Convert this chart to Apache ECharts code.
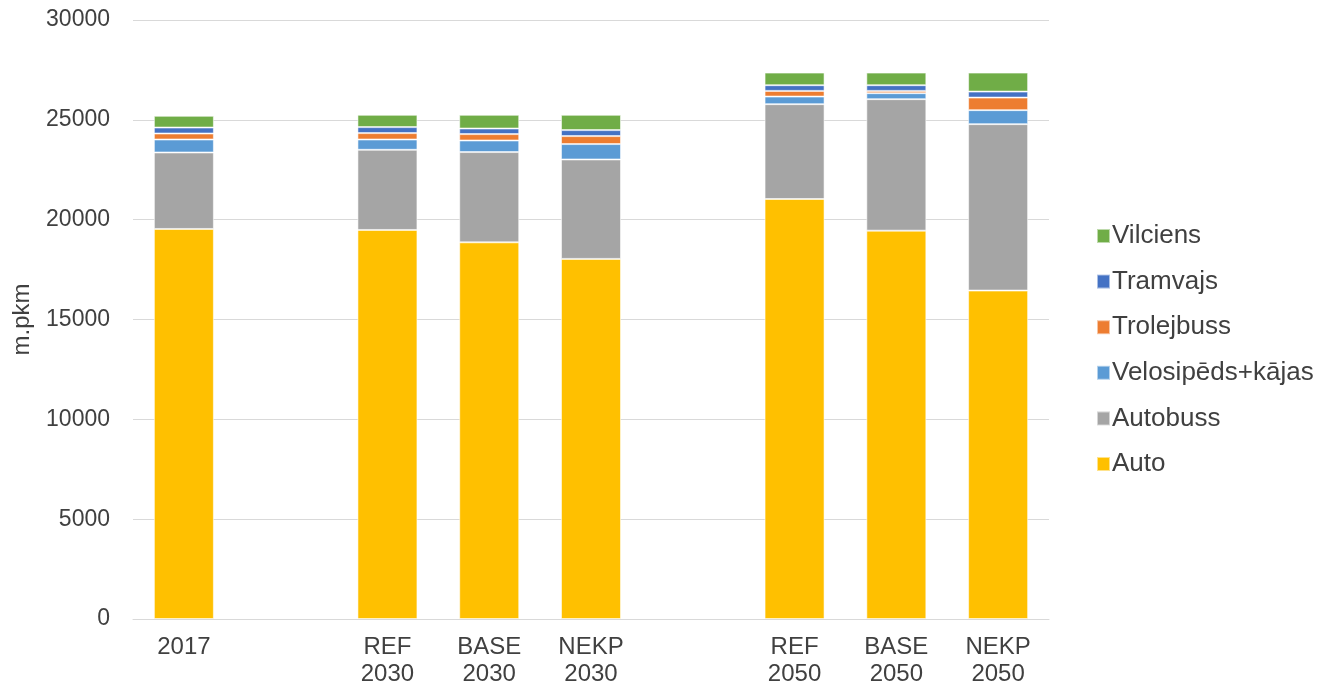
<!DOCTYPE html>
<html>
<head>
<meta charset="utf-8">
<script src="https://cdn.jsdelivr.net/npm/echarts@6/dist/echarts.min.js"></script>
<style>
  html, body { margin: 0; padding: 0; background: #fff; }
  #chart { width: 1325px; height: 688px; }
</style>
</head>
<body>
<div id="chart"></div>
<script>
// Scenario categories (empty strings are spacer slots between groups)
const categories = ['2017', '', 'REF\n2030', 'BASE\n2030', 'NEKP\n2030', '', 'REF\n2050', 'BASE\n2050', 'NEKP\n2050'];

// Passenger-km by transport mode, million pkm
const auto        = [19535, null, 19485, 18865, 18035, null, 21035, 19450, 16450];
const autobuss    = [3830,  null, 4015,  4520,  4980,  null, 4750,  6585,  8335];
const velosipeds  = [650,   null, 515,   580,   770,   null, 380,   300,   700];
const trolejbuss  = [300,   null, 320,   320,   400,   null, 285,   115,   630];
const tramvajs    = [300,   null, 300,   280,   300,   null, 285,   285,   300];
const vilciens    = [585,   null, 615,   685,   765,   null, 630,   630,   950];

const yTicks = { min: 0, max: 30000, interval: 5000 };

const seriesDefs = [
  { name: 'Auto', data: auto, color: '#FFC000' },
  { name: 'Autobuss', data: autobuss, color: '#A5A5A5' },
  { name: 'Velosipēds+kājas', data: velosipeds, color: '#5B9BD5' },
  { name: 'Trolejbuss', data: trolejbuss, color: '#ED7D31' },
  { name: 'Tramvajs', data: tramvajs, color: '#4472C4' },
  { name: 'Vilciens', data: vilciens, color: '#70AD47' }
];

const font = '"Liberation Sans", Arial, sans-serif';
const chart = echarts.init(document.getElementById('chart'), null, { renderer: 'canvas' });

chart.setOption({
  animation: false,
  backgroundColor: '#ffffff',
  textStyle: { fontFamily: font },
  grid: { left: 133, right: 276, top: 20, bottom: 68 },
  legend: {
    orient: 'vertical',
    left: 1091,
    top: 218,
    itemWidth: 13,
    itemHeight: 14,
    itemGap: 19.6,
    icon: 'rect',
    data: ['Vilciens', 'Tramvajs', 'Trolejbuss', 'Velosipēds+kājas', 'Autobuss', 'Auto'],
    textStyle: { fontFamily: font, fontSize: 26, color: '#404040', lineHeight: 26, padding: [0, 0, 0, -3] }
  },
  xAxis: {
    type: 'category',
    data: categories,
    axisTick: { show: false },
    axisLine: { show: true, lineStyle: { color: '#d9d9d9', width: 1 } },
    axisLabel: {
      interval: 0,
      margin: 15,
      fontFamily: font,
      fontSize: 24,
      lineHeight: 27,
      color: '#404040'
    }
  },
  yAxis: {
    type: 'value',
    min: yTicks.min,
    max: yTicks.max,
    interval: yTicks.interval,
    name: 'm.pkm',
    nameLocation: 'middle',
    nameGap: 99,
    nameRotate: 90,
    nameMoveOverlap: false,
    nameTextStyle: { fontFamily: font, fontSize: 24, color: '#404040' },
    axisLine: { show: false },
    axisTick: { show: false },
    axisLabel: {
      margin: 23,
      fontFamily: font,
      fontSize: 23,
      color: '#404040',
      formatter: v => String(v)
    },
    splitLine: { lineStyle: { color: '#d9d9d9', width: 1 } }
  },
  series: seriesDefs.map(s => ({
    name: s.name,
    type: 'bar',
    stack: 'total',
    barWidth: 60,
    data: s.data,
    itemStyle: { color: s.color, borderColor: 'rgba(255,255,255,0.55)', borderWidth: 1 }
  }))
});
</script>
</body>
</html>
